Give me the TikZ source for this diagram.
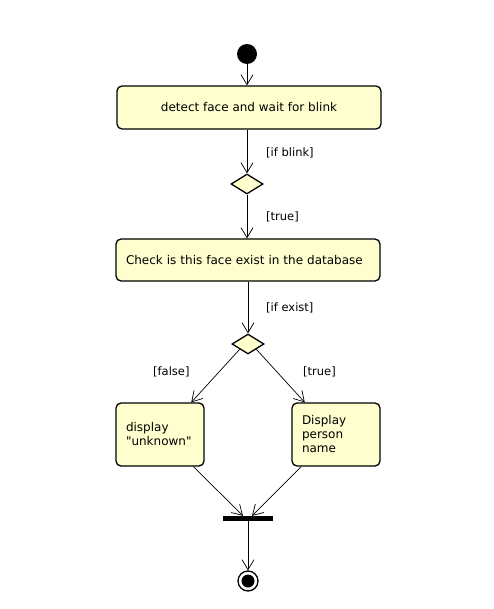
\documentclass[tikz,border=0pt]{standalone}
\usepackage{fontspec}
\setmainfont{DejaVu Sans}
\usetikzlibrary{arrows.meta,positioning,shapes,calc}
\definecolor{actfill}{HTML}{FEFECE}
\newcommand{\qt}{\XeTeXglyph\XeTeXcharglyph"22\relax}
\tikzset{
  act/.style = {draw, line width = 1.3pt, rounded corners = 5pt, fill = actfill, inner sep = 0pt, font = \fontsize{12}{14}\selectfont},
  choice/.style = {draw, diamond, line width = 1.3pt, fill = actfill, minimum width = 32pt, minimum height = 20pt, inner sep = 0pt},
  guard/.style = {anchor = west, inner sep = 0pt, font = \fontsize{11.5}{14}\selectfont},
  flow/.style = {-{Straight Barb[length = 10pt, width = 12pt]}, line width = 0.7pt}
}
\begin{document}
\begin{tikzpicture}[x = 1pt, y = -1pt]
\useasboundingbox (0,0) rectangle (493,609);
\node[circle, fill, minimum size = 20pt, inner sep = 0pt] (start) at (247,54) {};
\node[act, minimum width = 264pt, minimum height = 43pt, align = center] (detect) at (249,107.5) {detect face and wait for blink};
\node[choice] (blink) at (247,184) {};
\node[act, minimum width = 264pt, minimum height = 42pt, text width = 244pt, align = left] (check) at (248,260) {Check is this face exist in the database};
\node[choice] (exist) at (248,344) {};
\node[act, minimum width = 88pt, minimum height = 63pt, text width = 68pt, align = left] (unknown) at (160,434.5) {display\\\qt unknown\qt};
\node[act, minimum width = 88pt, minimum height = 63pt, text width = 68pt, align = left] (name) at (336,434.5) {Display\\person\\name};
\node[fill, minimum width = 50pt, minimum height = 5pt, inner sep = 0pt] (join) at (248,518.5) {};
\node[circle, draw, line width = 1.3pt, minimum size = 20pt, inner sep = 0pt] (stop) at (248,581) {};
\node[circle, fill, minimum size = 13pt, inner sep = 0pt] (stopdot) at (stop) {};
% guards
\node[guard] (gblink) at (266,153) {[if blink]};
\node[guard] (gtrue) at (266,217) {[true]};
\node[guard] (gexist) at (266,308) {[if exist]};
\node[guard] (gfalse) at (153,372) {[false]};
\node[guard] (gtrue2) at (303,372) {[true]};
% flows
\draw[flow] (start) -- (detect.north -| start);
\draw[flow] (detect.south -| blink) -- (blink.north);
\draw[flow] (blink.south) -- (check.north -| blink);
\draw[flow] (check.south) -- (exist.north);
\draw[flow] (exist.south west) -- ($(unknown.north west)!0.85!(unknown.north east)$);
\draw[flow] (exist.south east) -- ($(name.north west)!0.15!(name.north east)$);
\draw[flow] ($(unknown.south west)!0.875!(unknown.south east)$) -- ($(join.north west)!0.4!(join.north east)$);
\draw[flow] ($(name.south west)!0.11!(name.south east)$) -- ($(join.north west)!0.58!(join.north east)$);
\draw[flow] (join) -- (stop);
\end{tikzpicture}
\end{document}
